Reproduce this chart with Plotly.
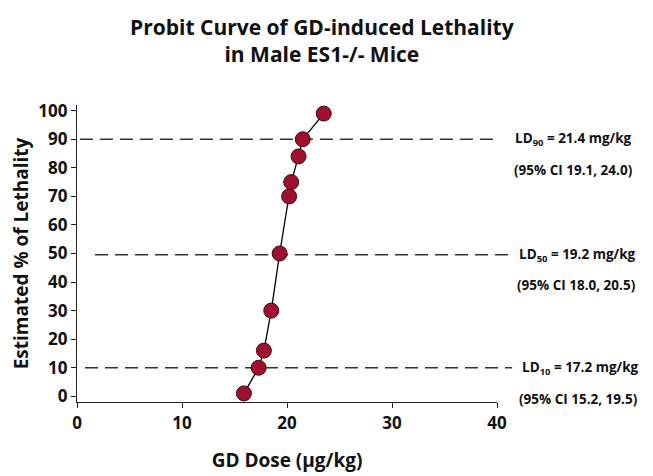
import plotly.graph_objects as go

dose = [15.9, 17.3, 17.8, 18.5, 19.3, 20.2, 20.4, 21.1, 21.5, 23.5]
lethality = [1, 10, 16, 30, 50, 70, 75, 84, 90, 99]

ld_levels = [90, 49.6, 10]
ld_label = ["LD<sub>90</sub> = 21.4 mg/kg", "LD<sub>50</sub> = 19.2 mg/kg", "LD<sub>10</sub> = 17.2 mg/kg"]
ld_ci = ["(95% CI 19.1, 24.0)", "(95% CI 18.0, 20.5)", "(95% CI 15.2, 19.5)"]
line_start = [0.007, 0.043, 0.019]
line_end = [1.002, 1.026, 1.036]
label_x = [1.038, 1.048, 1.055]
ci_x = [1.036, 1.043, 1.048]

FONT = "Open Sans"
fig = go.Figure()
fig.add_trace(go.Scatter(
    x=dose, y=lethality, mode="lines+markers",
    line=dict(color="black", width=1.3),
    marker=dict(size=15, color="#A0102E", line=dict(color="#3a0a12", width=1)),
    showlegend=False, cliponaxis=False,
))

for lvl, lab, ci, s, e, lx, cx in zip(ld_levels, ld_label, ld_ci, line_start, line_end, label_x, ci_x):
    fig.add_shape(type="line", xref="paper", yref="y", x0=s, x1=e, y0=lvl, y1=lvl,
                  line=dict(color="#333333", width=1.5, dash="13px,7px"), layer="below")
    fig.add_annotation(xref="paper", yref="y", x=lx, y=lvl, text="<b>" + lab + "</b>",
                       showarrow=False, xanchor="left", yanchor="middle",
                       font=dict(family=FONT, size=13.5, color="#111"))
    fig.add_annotation(xref="paper", yref="y", x=cx, y=lvl - 10.8, text="<b>" + ci + "</b>",
                       showarrow=False, xanchor="left", yanchor="middle",
                       font=dict(family=FONT, size=13.5, color="#111"))

# page body has an 8px margin, so the figure is sized and placed to compensate
fig.update_layout(
    width=645, height=468,
    margin=dict(l=69, r=156, t=97, b=74),
    paper_bgcolor="white", plot_bgcolor="white",
    title=dict(text="<b>Probit Curve of GD-induced Lethality<br>in Male ES1-/- Mice</b>",
               x=0.4866, xanchor="center", y=0.943, yanchor="middle",
               font=dict(family=FONT, size=21, color="#111")),
    font=dict(family=FONT, color="#111"),
)
fig.update_xaxes(range=[0, 40], tickvals=[0, 10, 20, 30, 40], showgrid=False, zeroline=False,
                 showline=True, linecolor="#222", linewidth=1.3, ticks="outside", ticklen=5,
                 tickcolor="#222", tickfont=dict(family=FONT, size=17, weight="bold"),
                 automargin=False,
                 title=dict(text="<b>GD Dose (µg/kg)</b>", font=dict(family=FONT, size=19), standoff=21))
fig.update_yaxes(range=[-2, 102], tickvals=list(range(0, 101, 10)), showgrid=False, zeroline=False,
                 showline=True, linecolor="#222", linewidth=1.3, ticks="outside", ticklen=5,
                 tickcolor="#222", tickfont=dict(family=FONT, size=17, weight="bold"),
                 automargin=False,
                 title=dict(text="<b>Estimated % of Lethality</b>", font=dict(family=FONT, size=19), standoff=11))

fig.write_html("out.html")
